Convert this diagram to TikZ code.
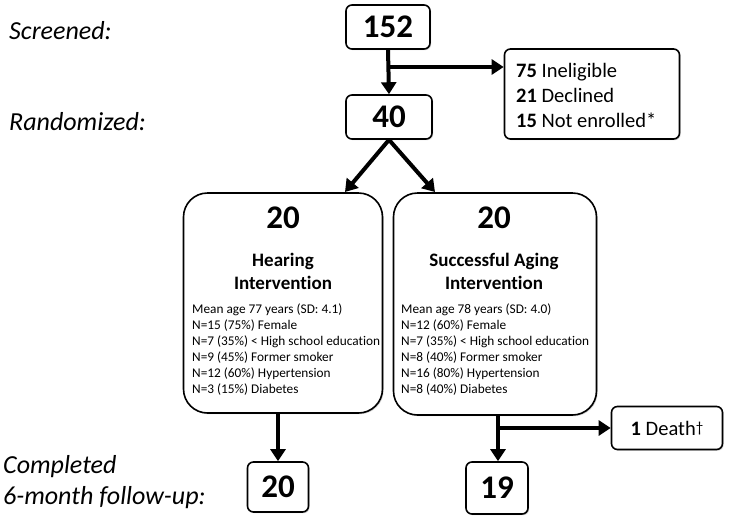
\documentclass[tikz,border=0pt]{standalone}
\usepackage{fontspec}
\setmainfont{Carlito}[Ligatures=NoCommon]
\usetikzlibrary{arrows.meta,shadows}
\begin{document}
\begin{tikzpicture}[x=1pt,y=-1pt,
  box/.style={draw=black,line width=1.6pt,fill=white,rounded corners=6pt,
    drop shadow={shadow xshift=1.2pt,shadow yshift=-1.2pt,opacity=0.35},
    inner sep=0pt,align=center},
  bigbox/.style={box,rounded corners=24pt},
  num/.style={font=\fontsize{33}{34}\selectfont\bfseries},
  lab/.style={font=\fontsize{26}{31}\selectfont\itshape,anchor=west,align=left,inner sep=0pt},
  arr/.style={line width=4pt,-{Triangle[width=15pt,length=12pt]}},
  ln/.style={line width=4pt}]
\useasboundingbox (0,0) rectangle (732,523);
\fill[white] (0,0) rectangle (732,523);
% left labels
\node[lab] (lscr) at (9,31) {Screened:};
\node[lab] (lran) at (9,122) {Randomized:};
\node[lab] (lcom) at (3,482) {Completed\\6-month follow-up:};
% boxes
\node[box,num,minimum width=84pt,minimum height=44pt] (n152) at (388,27) {152};
\node[box,num,minimum width=86pt,minimum height=44pt] (n40) at (389,117) {40};
\node[box,minimum width=175pt,minimum height=90pt] (excl) at (592,94) {};
\node[anchor=west,align=left,inner sep=0pt,font=\fontsize{20.5}{25}\selectfont] (excltxt) at (516,95)
  {\textbf{75} Ineligible\\\textbf{21} Declined\\\textbf{15} Not enrolled*};
\node[bigbox,minimum width=199pt,minimum height=220pt] (hear) at (283,303) {};
\node[bigbox,minimum width=203pt,minimum height=222pt] (succ) at (495,304) {};
\node[box,num,minimum width=61pt,minimum height=50pt] (c20) at (278,487) {20};
\node[box,num,minimum width=62pt,minimum height=52pt] (c19) at (497,488) {19};
\node[box,minimum width=111pt,minimum height=43pt,font=\fontsize{20.5}{22}\selectfont] (death) at (667,428) {\textbf{1} Death\raisebox{0.3ex}{\fontsize{15}{16}\selectfont †}};
% big box contents
\node[num] (h20) at (283,218) {20};
\node[font=\fontsize{19}{23}\selectfont\bfseries,align=center] (htit) at (283,271) {Hearing\\Intervention};
\node[anchor=north west,align=left,inner sep=0pt,font=\fontsize{13.3}{16}\selectfont] (hdet) at (192,304)
 {Mean age 77 years (SD: 4.1)\\N=15 (75\%) Female\\N=7 (35\%) < High school education\\N=9 (45\%) Former smoker\\N=12 (60\%) Hypertension\\N=3 (15\%) Diabetes};
\node[num] (s20) at (494,218) {20};
\node[font=\fontsize{19}{23}\selectfont\bfseries,align=center] (stit) at (494,271) {Successful Aging\\Intervention};
\node[anchor=north west,align=left,inner sep=0pt,font=\fontsize{13.3}{16}\selectfont] (sdet) at (401,304)
 {Mean age 78 years (SD: 4.0)\\N=12 (60\%) Female\\N=7 (35\%) < High school education\\N=8 (40\%) Former smoker\\N=16 (80\%) Hypertension\\N=8 (40\%) Diabetes};
% connectors
\coordinate (b1) at (388,67);
\draw[arr] (n152.south) -- (n40.north);
\draw[arr] (b1) -- (b1 -| excl.west);
\coordinate (t1) at (345,192);
\coordinate (t2) at (435,192);
\draw[arr] (n40.south) -- (t1);
\draw[arr] (n40.south) -- (t2);
\draw[arr] (hear.south -| c20) -- (c20.north);
\coordinate (b2) at (498,428);
\draw[arr] (succ.south -| b2) -- (b2 |- c19.north);
\draw[arr] (b2) -- (death.west);
\end{tikzpicture}
\end{document}
